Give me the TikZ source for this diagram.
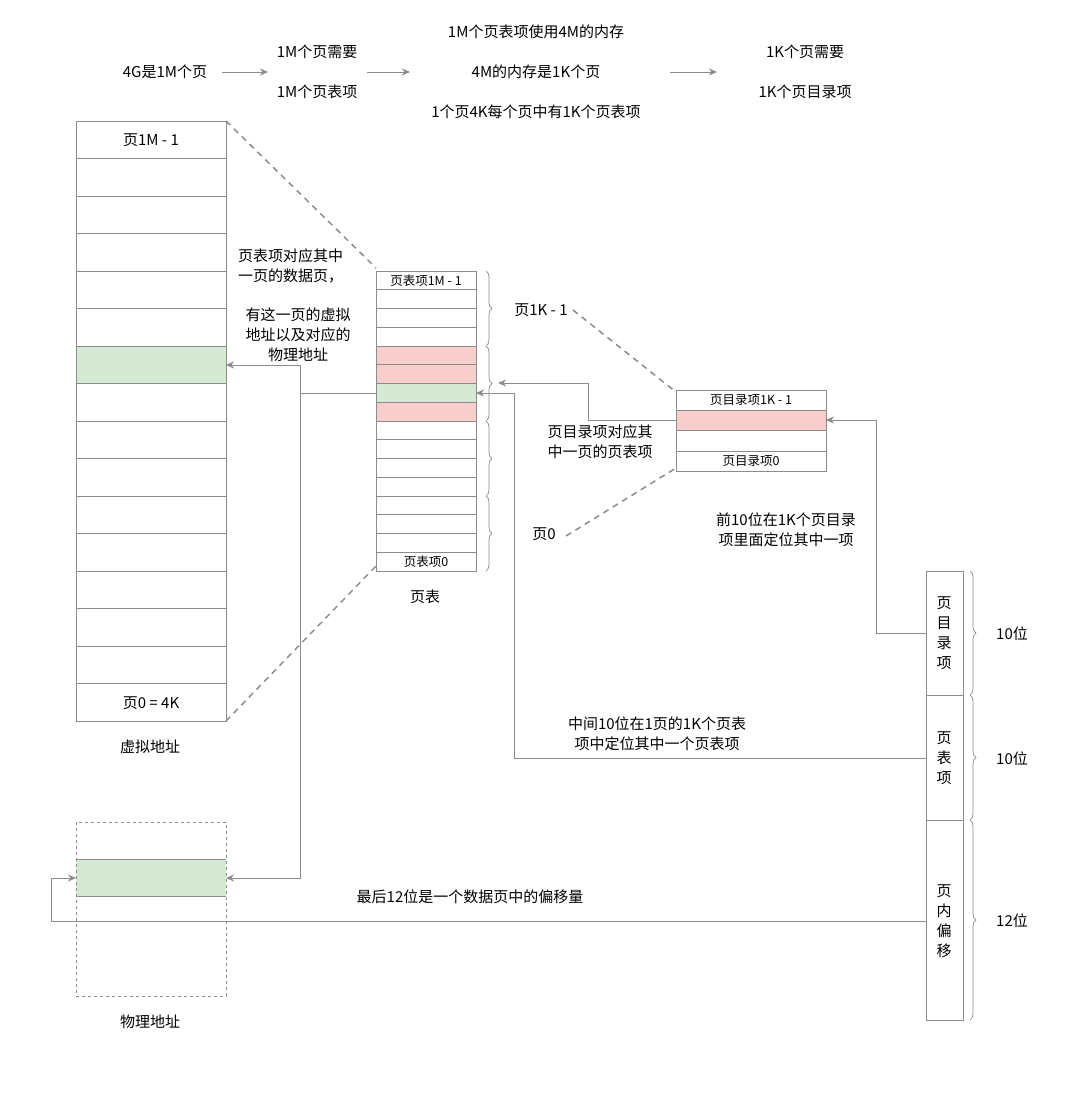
\documentclass[tikz,border=0pt]{standalone}
\usepackage{fontspec}
\setmainfont{Noto Sans CJK SC}
\usetikzlibrary{decorations.pathreplacing,arrows.meta}
\definecolor{ln}{HTML}{8C8C8C}
\definecolor{pk}{HTML}{F8CECC}
\definecolor{gn}{HTML}{D5E8D4}
\tikzset{x=1pt,y=-1pt,
 txt/.style={font=\fontsize{15}{20}\selectfont,inner sep=0pt,align=center},
 stxt/.style={font=\fontsize{12.5}{14}\selectfont,inner sep=0pt},
 cell/.style={draw=ln,line width=0.6pt},
 con/.style={draw=ln,line width=0.8pt,-{Stealth[length=8pt,width=7pt]}},
 dsh/.style={draw=ln,line width=1.5pt,dash pattern=on 6pt off 5pt},
 br/.style={draw=ln,line width=0.7pt,decorate,decoration={brace,amplitude=6pt}}}
\begin{document}
\begin{tikzpicture}
\useasboundingbox (0,0) rectangle (1080,1109);
% top row
\node[txt] (t1) at (165,72) {4G是1M个页};
\node[txt] (t2) at (317,72) {1M个页需要\\[20pt]1M个页表项};
\node[txt] (t3) at (536,72) {1M个页表项使用4M的内存\\[20pt]4M的内存是1K个页\\[20pt]1个页4K每个页中有1K个页表项};
\node[txt] (t4) at (805,72) {1K个页需要\\[20pt]1K个页目录项};
\draw[con] (222,72) -- (268,72);
\draw[con] (367,72) -- (410,72);
\draw[con] (670,72) -- (717,72);
% virtual address
\fill[gn] (76,347) rectangle (226,384);
\foreach \i in {0,...,15} \draw[cell] (76,{121+\i*37.5}) rectangle (226,{121+(\i+1)*37.5});
\node[txt] (v1) at (151,140) {页1M - 1};
\node[txt] (v0) at (151,703) {页0 = 4K};
\node[txt] (vl) at (150,747) {虚拟地址};
\coordinate (vg) at (226,365);
% page table
\fill[pk] (376,346.25) rectangle (476,383.75);
\fill[gn] (376,383.75) rectangle (476,402.5);
\fill[pk] (376,402.5) rectangle (476,421.25);
\foreach \i in {0,...,15} \draw[cell] (376,{271+\i*18.75}) rectangle (476,{271+(\i+1)*18.75});
\node[stxt] (p1) at (426,281) {页表项1M - 1};
\node[stxt] (p0) at (426,562) {页表项0};
\node[txt] (pl) at (425,597) {页表};
\draw[br] (486,271) -- (486,346);
\draw[br] (486,346) -- (486,421);
\draw[br] (486,421) -- (486,496);
\draw[br] (486,496) -- (486,571);
\node[txt] (b1) at (541,310) {页1K - 1};
\node[txt] (b0) at (544,534) {页0};
% dashed
\draw[dsh] (226,121) -- (376,268);
\draw[dsh] (226,721) -- (376,566);
\draw[dsh] (573,310) -- (676,392);
\draw[dsh] (566,536) -- (676,468);
% texts
\node[txt,align=left,anchor=west] (n1) at (238,266) {页表项对应其中\\一页的数据页，};
\node[txt] (n2) at (298,335) {有这一页的虚拟\\地址以及对应的\\物理地址};
% directory
\fill[pk] (676,410) rectangle (826,430);
\foreach \a/\b in {390/410,410/430,430/451,451/471} \draw[cell] (676,\a) rectangle (826,\b);
\node[stxt] (d1) at (751,400) {页目录项1K - 1};
\node[stxt] (d0) at (751,461) {页目录项0};
\node[txt] (n3) at (600,442) {页目录项对应其\\中一页的页表项};
\node[txt] (n4) at (786,530) {前10位在1K个页目录\\项里面定位其中一项};
% bit box
\draw[cell] (926,571) rectangle (963,1020);
\draw[cell] (926,695) -- (963,695);
\draw[cell] (926,820) -- (963,820);
\node[txt] (k1) at (944,633) {页\\目\\录\\项};
\node[txt] (k2) at (944,758) {页\\表\\项};
\node[txt] (k3) at (944,921) {页\\内\\偏\\移};
\draw[br] (970,571) -- (970,695);
\draw[br] (970,695) -- (970,820);
\draw[br] (970,820) -- (970,1020);
\node[txt] (w1) at (1012,634) {10位};
\node[txt] (w2) at (1012,759) {10位};
\node[txt] (w3) at (1012,921) {12位};
\node[txt] (n5) at (657,734) {中间10位在1页的1K个页表\\项中定位其中一个页表项};
\node[txt] (n6) at (470,897) {最后12位是一个数据页中的偏移量};
% physical
\fill[gn] (76,859) rectangle (226,896);
\draw[cell,dashed] (76,822) rectangle (226,996);
\draw[cell] (76,859) -- (226,859) (76,896) -- (226,896);
\node[txt] (ph) at (150,1022) {物理地址};
% connectors
\draw[con] (376,393) -- (300,393) -- (300,365) -- (vg);
\draw[con] (300,393) -- (300,878) -- (226,878);
\draw[con] (676,420) -- (588,420) -- (588,383) -- (498,383);
\draw[con] (926,633) -- (876,633) -- (876,420) -- (826,420);
\draw[con] (926,758) -- (514,758) -- (514,393) -- (476,393);
\draw[con] (926,921) -- (51,921) -- (51,878) -- (76,878);
\end{tikzpicture}
\end{document}
